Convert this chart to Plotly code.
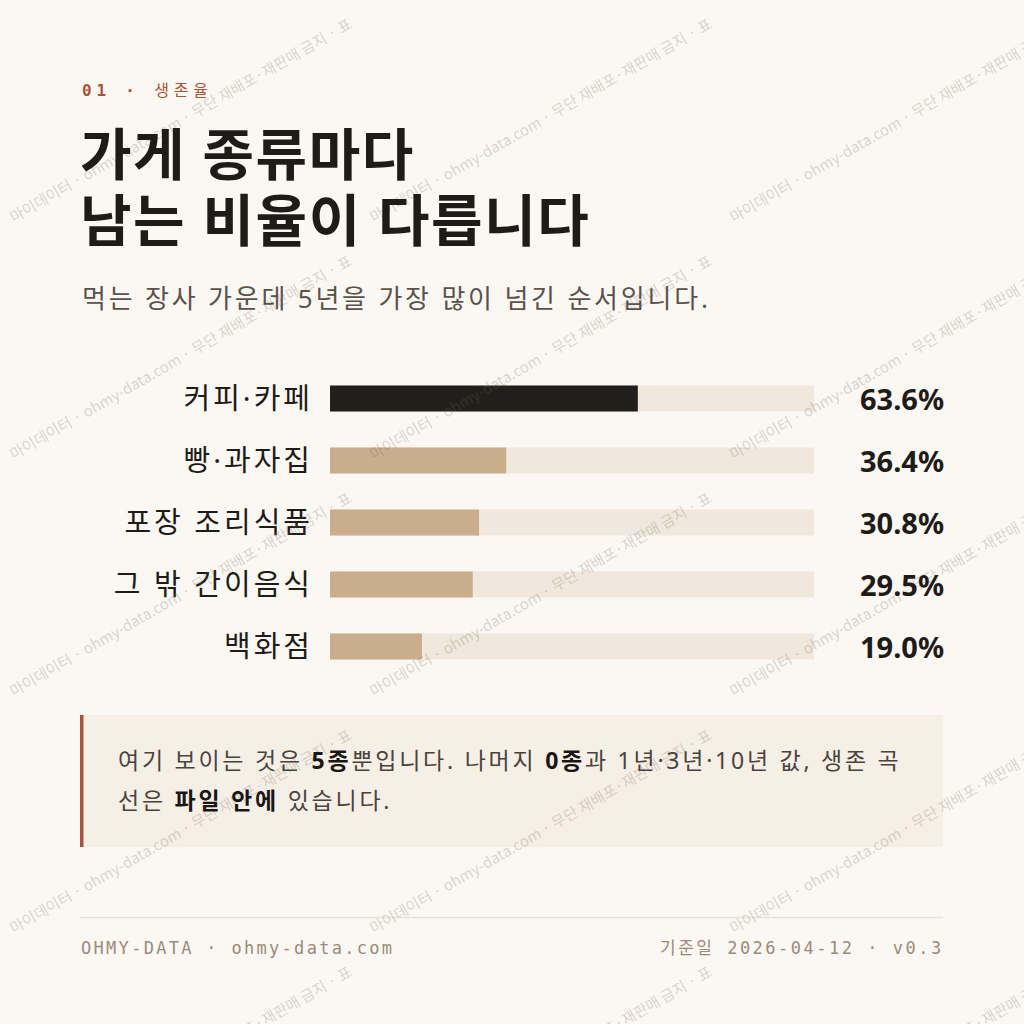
import plotly.graph_objects as go

# ---- data ----
categories = ["커피·카페", "빵·과자집", "포장 조리식품", "그 밖 간이음식", "백화점"]
survival_5y = [63.6, 36.4, 30.8, 29.5, 19.0]
axis_max = 100

eyebrow_num = "01 ·"
eyebrow_word = "생존율"
title_lines = ["가게 종류마다", "남는 비율이 다릅니다"]
subtitle = "먹는 장사 가운데 5년을 가장 많이 넘긴 순서입니다."
note_lines = [
    "여기 보이는 것은 {b}5종{e}뿐입니다. 나머지 {b}0종{e}과 1년·3년·10년 값, 생존 곡",
    "선은 {b}파일 안에{e} 있습니다.",
]
footer_left = "OHMY-DATA · ohmy-data.com"
footer_right = "기준일 2026-04-12 · v0.3"
watermark = "마이데이터 · ohmy-data.com · 무단 재배포·재판매 금지 · 표"

# ---- style ----
W = H = 1024
BG = "#fbf8f3"
TRACK = "#f0e8dc"
DARK = "#221e1b"
TAN = "#c9ad8c"
RUST = "#a9533a"
INK = "#1f1b18"
SANS = "Noto Sans, Noto Sans CJK KR"
MONO = "DejaVu Sans Mono, Noto Sans CJK KR"


def X(px):
    return px / W


def Y(px):
    return 1 - px / H


def spaced(text, ls):
    return f'<span style="letter-spacing:{ls}px">{text}</span>'


top_val = max(survival_5y)
bar_colors = [DARK if v == top_val else TAN for v in survival_5y]

fig = go.Figure()
fig.add_trace(go.Bar(
    x=[axis_max] * len(categories), y=categories, orientation="h",
    marker=dict(color=TRACK, line=dict(width=0)), width=0.42,
    hoverinfo="skip", showlegend=False,
))
fig.add_trace(go.Bar(
    x=survival_5y, y=categories, orientation="h",
    marker=dict(color=bar_colors, line=dict(width=0)), width=0.42,
    hoverinfo="skip", showlegend=False,
))

ann = []


def txt(text, x, y, size, color, family=SANS, xanchor="left", bold=False, yref="paper", xref="paper"):
    ann.append(dict(
        text=f"<b>{text}</b>" if bold else text, x=x, y=y, xref=xref, yref=yref,
        xanchor=xanchor, yanchor="middle", showarrow=False,
        font=dict(family=family, size=size, color=color),
    ))


# watermark
for row_y in [223, 460, 697, 934, 1171]:
    for col_x in [0, 360, 720]:
        ann.append(dict(
            text=watermark, x=X(col_x + 180), y=Y(row_y - 104), xref="paper", yref="paper",
            xanchor="center", yanchor="middle", showarrow=False, textangle=-30,
            font=dict(family="Noto Sans CJK KR", size=15, color="rgba(120,105,90,0.27)"),
        ))

txt(spaced(f"<b>{eyebrow_num}</b> {eyebrow_word}", 4.8), X(80), Y(90), 16, RUST, family=MONO)
txt(spaced(title_lines[0], 1.6), X(78), Y(153), 56, INK, bold=True)
txt(spaced(title_lines[1], 1.6), X(78), Y(219), 56, INK, bold=True)
txt(spaced(subtitle, 2.8), X(80), Y(298), 26, "#5a524b")

for cat, v in zip(categories, survival_5y):
    txt(f"{v:.1f}%", X(946), cat, 29, INK, xanchor="right", bold=True, yref="y")

bopen = '<span style="color:#1a1614"><b>'
bclose = '</b></span>'
txt(spaced(note_lines[0].format(b=bopen, e=bclose), 2.75), X(116), Y(760), 23, "#4a433d")
txt(spaced(note_lines[1].format(b=bopen, e=bclose), 2.75), X(116), Y(800), 23, "#4a433d")

txt(spaced(footer_left, 2.3), X(79), Y(948), 17, "#9a8b7a", family=MONO)
txt(spaced(footer_right, 2.5), X(946), Y(948), 17, "#9a8b7a", family=MONO, xanchor="right")

shapes = [
    dict(type="rect", xref="paper", yref="paper", x0=X(80), x1=X(943), y0=Y(847), y1=Y(715),
         fillcolor="#f6efe6", line=dict(width=0), layer="below"),
    dict(type="rect", xref="paper", yref="paper", x0=X(80), x1=X(83.5), y0=Y(847), y1=Y(715),
         fillcolor=RUST, line=dict(width=0), layer="below"),
    dict(type="line", xref="paper", yref="paper", x0=X(80), x1=X(943), y0=Y(917.5), y1=Y(917.5),
         line=dict(color="#e8e1d7", width=1.5), layer="below"),
]

fig.update_layout(
    width=W, height=H, margin=dict(l=0, r=0, t=0, b=0),
    paper_bgcolor=BG, plot_bgcolor="rgba(0,0,0,0)",
    barmode="overlay", showlegend=False,
    xaxis=dict(domain=[X(330), X(814)], range=[0, axis_max], visible=False, fixedrange=True),
    yaxis=dict(domain=[Y(677.5), Y(367.5)], categoryorder="array", categoryarray=categories,
               tickmode="array", tickvals=categories,
               ticktext=[spaced(c, 3) for c in categories],
               range=[len(categories) - 0.5, -0.5], showgrid=False, zeroline=False, showline=False,
               ticks="", ticklabelstandoff=16, tickfont=dict(family=SANS, size=29, color=INK),
               fixedrange=True),
    annotations=ann, shapes=shapes,
)

fig.write_html(
    "out.html",
    config={"displayModeBar": False},
    post_script="document.body.style.margin='0';document.body.style.background='#fbf8f3';",
)
